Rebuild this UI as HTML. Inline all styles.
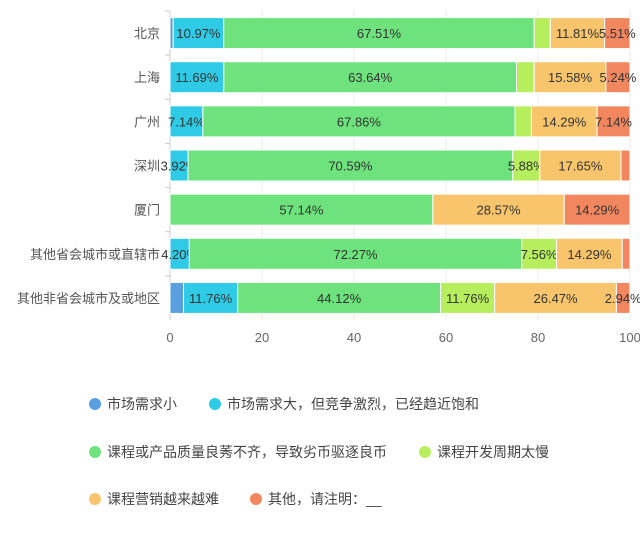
<!DOCTYPE html>
<html><head><meta charset="utf-8"><style>
body{margin:0;background:#fff;font-family:"Liberation Sans","Noto Sans CJK SC",sans-serif}
svg text{font-family:"Liberation Sans","Noto Sans CJK SC",sans-serif}
</style></head><body>
<svg id="c" width="640" height="533"></svg>
<script>
const categories=["北京","上海","广州","深圳","厦门","其他省会城市或直辖市","其他非省会城市及或地区"];
const seriesNames=["市场需求小","市场需求大，但竞争激烈，已经趋近饱和","课程或产品质量良莠不齐，导致劣币驱逐良币","课程开发周期太慢","课程营销越来越难","其他，请注明：__"];
const s0=[0.7,0,0,0,0,0,2.94];
const s1=[10.97,11.69,7.14,3.92,0,4.20,11.76];
const s2=[67.51,63.64,67.86,70.59,57.14,72.27,44.12];
const s3=[3.5,3.85,3.57,5.88,0,7.56,11.76];
const s4=[11.81,15.58,14.29,17.65,28.57,14.29,26.47];
const s5=[5.51,5.24,7.14,1.96,14.29,1.68,2.94];
const ticks=[0,20,40,60,80,100];
const colors=["#5a9fe0","#2fcbe6","#6ee27c","#b6ee5e","#f8c56c","#f2875f"];
const series=[s0,s1,s2,s3,s4,s5];
const svg=document.getElementById('c');const NS="http://www.w3.org/2000/svg";
function mk(t,a,p){const e=document.createElementNS(NS,t);for(const k in a)e.setAttribute(k,a[k]);(p||svg).appendChild(e);return e;}
const x0=170,x1=630,yTop=11,yBot=320,bandH=(yBot-yTop)/categories.length,barH=31;
const xs=v=>x0+(x1-x0)*v/100;
ticks.forEach(t=>{const g=mk('line',{x1:xs(t),x2:xs(t),y1:yTop,y2:yBot,stroke:"#e8e8e8"});


const l=mk('text',{x:xs(t),y:342,'text-anchor':'middle','font-size':13,fill:'#666'});l.textContent=t;

});
const ax=mk('line',{x1:x0,x2:x0,y1:yTop,y2:yBot,stroke:"#ccc"});


categories.forEach((c,i)=>{const yc=yTop+bandH*(i+0.5);
const tk=mk('line',{x1:x0-5,x2:x0,y1:yTop+bandH*i,y2:yTop+bandH*i,stroke:'#ccc'});


const l=mk('text',{x:160,y:yc+5,'text-anchor':'end','font-size':13,fill:'#555'});l.textContent=c;


let acc=0;series.forEach((s,j)=>{const v=s[i];if(v<=0)return;const r=mk('rect',{x:xs(acc),y:yc-barH/2,width:xs(acc+v)-xs(acc),height:barH,fill:colors[j],stroke:'#fff','stroke-width':1});


if(v>=3.9||(j===5&&v>=2.9)){const t=mk('text',{x:(xs(acc)+xs(acc+v))/2,y:yc+5,'text-anchor':'middle','font-size':13,fill:'#333'});t.textContent=v.toFixed(2)+'%';

}
acc+=v;});});
const legPos=[[95,404],[215,404],[95,452],[425,452],[95,499],[256,499]];
seriesNames.forEach((n,j)=>{const g=mk('g',{});


mk('circle',{cx:legPos[j][0],cy:legPos[j][1],r:6,fill:colors[j]},g);
const t=mk('text',{x:legPos[j][0]+12,y:legPos[j][1]+5,'font-size':14,fill:'#444'},g);t.textContent=n;});
</script></body></html>
